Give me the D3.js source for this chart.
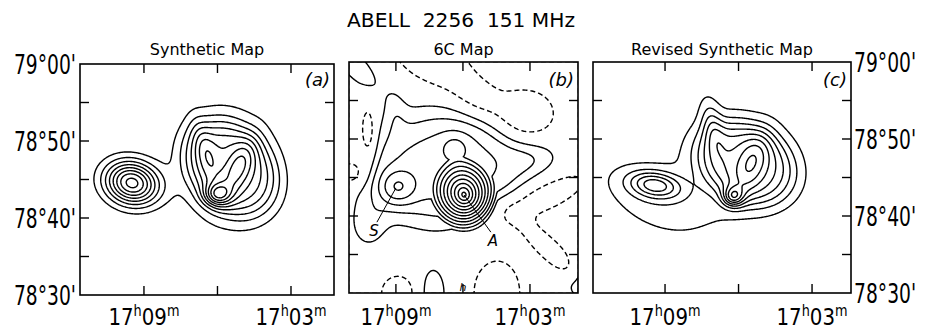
<!DOCTYPE html>
<html>
<head>
<meta charset="utf-8">
<script src="https://cdn.jsdelivr.net/npm/d3@7"></script>
<style>
  body { margin: 0; background: #fff; }
  svg { display: block; }
  text { font-family: "DejaVu Sans", sans-serif; fill: #000; }
</style>
</head>
<body>
<script>
// ---- chart data ----
const title = "ABELL  2256  151 MHz";
const panelTitles = ["Synthetic Map", "6C Map", "Revised Synthetic Map"];
const panelTags = ["(a)", "(b)", "(c)"];
const raTicks = [9, 6, 3];          // minutes of RA after 17h
const raLabels = [9, 3];
const decTicks = [30, 35, 40, 45, 50, 55, 60]; // arcmin after 78 deg
const decLabels = [30, 40, 50, 60];

// map components: [ra (min), dec ('), peak, size major ('), size minor ('), angle deg, profile]
// profile: 2 = gaussian, 3/4 = flat-topped, 1 = cone
const compsA = [
  [9.49, 44.55, 8.4, 2.3, 1.9, -20, 2],   // S
  [5.49, 46.50, 4.0, 5.6, 4.2, 125, 4],   // halo plateau
  [5.49, 46.49, 2.0, 6.8, 5.4, 100, 3],   // halo wings
  [6.51, 48.83, 1.6, 2.8, 0.9, 105, 2],   // west arm
  [5.16, 46.49, 2.6, 2.75, 1.1, 66, 2],   // ridge
  [6.02, 42.99, 4.0, 1.15, 1.0, 0, 2]     // A
];
const compsB = [
  [6.67, 46.30, 3.5, 9.1, 6.2, 0, 3],
  [9.04, 53.77, 0.9, 2.4, 1.05, 95, 2],
  [10.25, 38.83, 1.4, 2.4, 1.8, 90, 2],
  [2.78, 47.53, 0.9, 2.6, 1.6, 0, 2],
  [9.00, 43.64, 2.55, 1.82, 1.7, 0, 2],   // S
  [5.95, 42.73, 9.5, 5.0, 4.4, 110, 1],   // A
  [6.36, 48.83, 1.2, 1.3, 1.3, 0, 2],
  [7.39, 60.26, -2.5, 4.5, 2.2, -30, 2],
  [5.24, 55.10, -2.0, 2.6, 1.6, -25, 2],
  [3.22, 53.10, -3.2, 2.6, 2.2, 0, 2],
  [1.88, 60.00, 0.8, 3.0, 1.8, 0, 2],
  [2.78, 42.08, -2.5, 5.3, 1.6, 23, 2],
  [2.10, 35.60, -2.2, 4.6, 1.05, -43, 2],
  [0.54, 31.70, 2.5, 1.85, 1.85, 0, 2],
  [4.48, 30.00, -2.0, 3.6, 2.6, 90, 2],
  [7.34, 30.00, 2.0, 2.5, 1.3, 90, 2],
  [8.91, 30.00, -2.0, 1.85, 1.85, 0, 2],
  [10.82, 59.48, 2.0, 3.0, 1.2, -45, 2],
  [10.25, 50.52, -2.6, 2.6, 0.8, 90, 2],
  [10.97, 45.71, -2.5, 1.3, 1.3, 0, 2]
];
const compsC = [
  [9.41, 44.03, 4.4, 2.2, 1.15, -10, 2],  // S
  [9.61, 42.08, 1.4, 5.6, 3.1, -30, 2],
  [5.73, 46.88, 4.0, 5.4, 4.2, -35, 4],
  [5.94, 46.62, 2.0, 5.4, 5.0, 0, 2],
  [7.08, 51.82, 2.0, 2.5, 0.9, 100, 2],
  [5.45, 47.00, 2.3, 2.75, 1.25, 70, 2],
  [6.22, 42.47, 4.2, 0.9, 0.9, 0, 2]      // A
];
const levelsA = [1, 2, 3, 4, 5, 6, 7, 8, 9, 10];
const levelsB = [-1, 1, 2, 3, 4, 5, 6, 7, 8, 9, 10, 11, 12, 13];
const levelsC = [1, 2, 3, 4, 5, 6, 7, 8, 9, 10];

const sLabel = { text: "S", ra: 9.00, dec: 43.64, lra: 9.85, ldec: 39.2 };
const aLabel = { text: "A", ra: 5.95, dec: 42.73, lra: 4.75, ldec: 37.9 };

// ---- layout ----
const W = 925, H = 329;
const panels = [
  { x0: 80, x1: 334, y0: 64, y1: 295, ra: [11.61, 1.245], comps: compsA, levels: levelsA },
  { x0: 349, x1: 578, y0: 62, y1: 293, ra: [11.10, 0.85], comps: compsB, levels: levelsB },
  { x0: 593, x1: 851, y0: 62, y1: 293, ra: [11.94, 1.41], comps: compsC, levels: levelsC }
];

const svg = d3.select("body").append("svg")
  .attr("width", W).attr("height", H);

svg.append("text")
  .attr("x", 461).attr("y", 27)
  .attr("text-anchor", "middle")
  .attr("font-size", 20)
  .style("white-space", "pre")
  .attr("textLength", 228).attr("lengthAdjust", "spacingAndGlyphs")
  .text(title);

function field(comps, ra, dec) {
  let v = 0;
  for (const [r0, d0, amp, sa, sb, ang, pw] of comps) {
    const du = (r0 - ra) * 3, dv = dec - d0;
    const t = ang * Math.PI / 180, c = Math.cos(t), s = Math.sin(t);
    const p = (du * c + dv * s) / sa, q = (-du * s + dv * c) / sb;
    const rr = p * p + q * q;
    if (pw === 1) v += amp * Math.max(0, 1 - Math.sqrt(rr));
    else v += amp * Math.exp(-0.5 * Math.pow(rr, pw / 2));
  }
  return v;
}

function decText(d) {
  const deg = 78 + Math.floor(d / 60);
  const m = d % 60;
  return deg + "\u00b0" + String(m).padStart(2, "0") + "'";
}

panels.forEach((p, k) => {
  const x = d3.scaleLinear().domain(p.ra).range([p.x0, p.x1]);
  const y = d3.scaleLinear().domain([30, 60]).range([p.y1, p.y0]);
  const g = svg.append("g");

  // sample the map on a grid
  const n = 260, m = 240;
  const raAt = i => p.ra[0] + (p.ra[1] - p.ra[0]) * i / (n - 1);
  const decAt = j => 60 - 30 * j / (m - 1);
  const values = new Float64Array(n * m);
  for (let j = 0; j < m; j++)
    for (let i = 0; i < n; i++)
      values[i + j * n] = field(p.comps, raAt(i), decAt(j));

  const contours = d3.contours().size([n, m]).thresholds(p.levels)(values);
  const proj = d3.geoTransform({
    point: function(px, py) { this.stream.point(x(raAt(px - 0.5)), y(decAt(py - 0.5))); }
  });
  const path = d3.geoPath(proj);

  const clipId = "clip" + k;
  g.append("clipPath").attr("id", clipId)
    .append("rect").attr("x", p.x0).attr("y", p.y0)
    .attr("width", p.x1 - p.x0).attr("height", p.y1 - p.y0);

  g.append("g").attr("clip-path", "url(#" + clipId + ")")
    .selectAll("path").data(contours).join("path")
    .attr("d", path)
    .attr("fill", "none")
    .attr("stroke", "#000")
    .attr("stroke-width", 1.4)
    .attr("stroke-dasharray", d => d.value < 0 ? "5,3" : null);

  // frame
  g.append("rect").attr("x", p.x0).attr("y", p.y0)
    .attr("width", p.x1 - p.x0).attr("height", p.y1 - p.y0)
    .attr("fill", "none").attr("stroke", "#000").attr("stroke-width", 1.6);

  // ticks on all four sides, pointing inward
  const tl = 9;
  const ticks = g.append("g").attr("stroke", "#000").attr("stroke-width", 1.4);
  raTicks.forEach(r => {
    ticks.append("line").attr("x1", x(r)).attr("x2", x(r)).attr("y1", p.y0).attr("y2", p.y0 + tl);
    ticks.append("line").attr("x1", x(r)).attr("x2", x(r)).attr("y1", p.y1).attr("y2", p.y1 - tl);
  });
  decTicks.slice(1, -1).forEach(d => {
    ticks.append("line").attr("x1", p.x0).attr("x2", p.x0 + tl).attr("y1", y(d)).attr("y2", y(d));
    ticks.append("line").attr("x1", p.x1).attr("x2", p.x1 - tl).attr("y1", y(d)).attr("y2", y(d));
  });

  // RA labels 17h09m etc.
  raLabels.forEach(r => {
    const t = g.append("g")
      .attr("transform", "translate(" + x(r) + ",325) scale(0.86,1)")
      .append("text").attr("text-anchor", "middle").attr("font-size", 23);
    t.append("tspan").text("17");
    t.append("tspan").attr("font-size", 15).attr("dy", -9).text("h");
    t.append("tspan").attr("dy", 9).text(String(r).padStart(2, "0"));
    t.append("tspan").attr("font-size", 15).attr("dy", -9).text("m");
  });

  // panel title and tag
  g.append("text").attr("x", (p.x0 + p.x1) / 2).attr("y", 55)
    .attr("text-anchor", "middle").attr("font-size", 16).text(panelTitles[k]);
  g.append("text").attr("x", p.x1 - 4).attr("y", 86)
    .attr("text-anchor", "end").attr("font-size", 18)
    .attr("font-style", "italic").text(panelTags[k]);

  // Dec labels on the outer sides
  if (k === 0 || k === 2) {
    decLabels.forEach(d => {
      g.append("g")
        .attr("transform", "translate(" + (k === 0 ? p.x0 - 4 : p.x1 + 3) + "," + (y(d) + 10) + ") scale(0.72,1)")
        .append("text")
        .attr("text-anchor", k === 0 ? "end" : "start")
        .attr("font-size", 26)
        .text(decText(d));
    });
  }

  // S and A markers in the 6C map
  if (k === 1) {
    [sLabel, aLabel].forEach(l => {
      g.append("line")
        .attr("x1", x(l.ra)).attr("y1", y(l.dec))
        .attr("x2", x(l.lra)).attr("y2", y(l.ldec))
        .attr("stroke", "#000").attr("stroke-width", 1);
      g.append("text")
        .attr("x", x(l.lra) + (l.text === "S" ? -3 : 2))
        .attr("y", y(l.ldec) + 14)
        .attr("text-anchor", "middle")
        .attr("font-size", 15).attr("font-style", "italic")
        .text(l.text);
    });
    g.append("text").attr("x", 463).attr("y", 291)
      .attr("text-anchor", "middle").attr("font-size", 11)
      .attr("font-style", "italic").text("h");
  }
});
</script>
</body>
</html>
